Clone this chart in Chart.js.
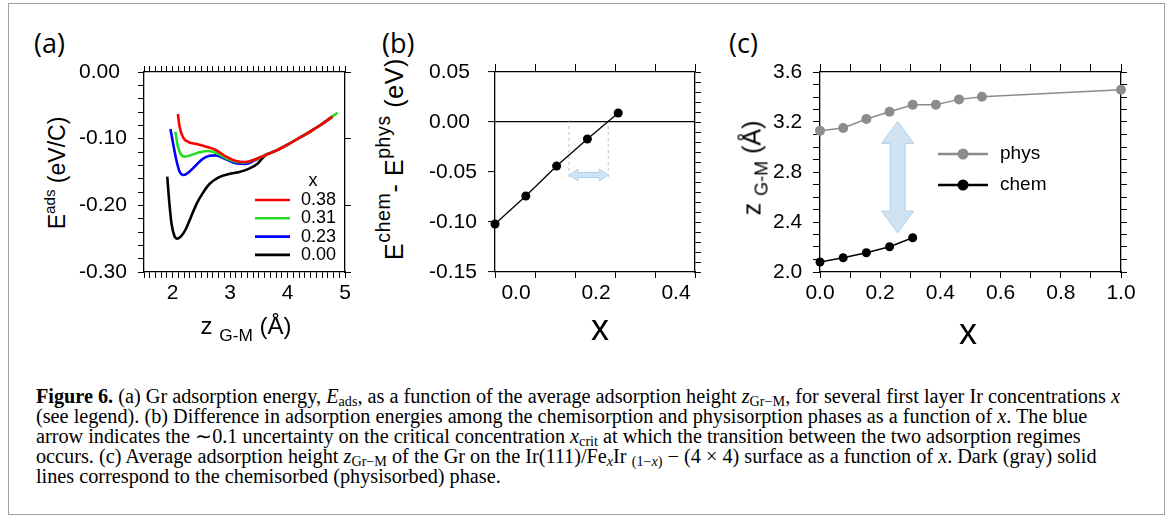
<!DOCTYPE html>
<html>
<head>
<meta charset="utf-8">
<script src="https://cdn.jsdelivr.net/npm/chart.js@4.4.1/dist/chart.umd.min.js"></script>
<style>
  body { margin: 0; width: 1171px; height: 517px; position: relative; overflow: hidden; background: #fff;
         font-family: "Liberation Sans", Arial, sans-serif; color: #000; }
  .frame { position: absolute; left: 8px; top: 3px; width: 1155px; height: 510px; border: 1.5px solid #a0a0a0; }
  canvas { position: absolute; }
  .lbl { position: absolute; white-space: nowrap; line-height: 1; }
  .rot { transform: translate(-50%, -50%) rotate(-90deg); }
  .ctr { transform: translate(-50%, -50%); }
  .lbl sup { font-size: 0.66em; vertical-align: 0.62em; line-height: 0; }
  .lbl sub { font-size: 0.72em; vertical-align: -0.38em; line-height: 0; }
  .panel { position: absolute; font-family: "Open Sans", "Liberation Sans", sans-serif; font-size: 27px; line-height: 1; }
  #caption { position: absolute; left: 36px; top: 386px; font-family: "Liberation Serif", "Times New Roman", serif;
             font-size: 20px; line-height: 20px; transform-origin: 0 0; }
  #caption div { white-space: nowrap; width: max-content; height: 20px; }
  #caption sub { font-size: 0.7em; vertical-align: -0.2em; line-height: 0; }
</style>
</head>
<body>
<div class="frame"></div>

<canvas id="chartA" width="300" height="300" style="left:70px;top:40px"></canvas>
<canvas id="chartB" width="300" height="300" style="left:420px;top:40px"></canvas>
<canvas id="chartC" width="390" height="300" style="left:760px;top:40px"></canvas>

<div class="panel" style="left:34px;top:29px">(a)</div>
<div class="panel" style="left:382px;top:29px">(b)</div>
<div class="panel" style="left:729px;top:29px">(c)</div>

<div class="lbl rot" style="left:57px;top:173px;font-size:23px">E<sup>ads</sup> (eV/C)</div>
<div class="lbl ctr" style="left:246px;top:326px;font-size:24px">z <sub>G-M</sub> (Å)</div>

<div class="lbl rot" style="left:394px;top:159px;font-size:25px;letter-spacing:0.6px">E<sup style="font-size:0.78em">chem</sup>- E<sup style="font-size:0.78em">phys</sup> (eV)</div>
<div class="lbl ctr" style="left:600px;top:328px;font-size:36px">x</div>

<div class="lbl rot" style="left:752px;top:168px;font-size:25px">z <sub>G-M</sub> (Å)</div>
<div class="lbl ctr" style="left:968px;top:332px;font-size:36px">x</div>

<div id="caption">
  <div id="cap1"><b>Figure 6.</b> (a) Gr adsorption energy, <i>E</i><sub>ads</sub>, as a function of the average adsorption height <i>z</i><sub>Gr−M</sub>, for several first layer Ir concentrations <i>x</i></div>
  <div>(see legend). (b) Difference in adsorption energies among the chemisorption and physisorption phases as a function of <i>x</i>. The blue</div>
  <div>arrow indicates the ∼0.1 uncertainty on the critical concentration <i>x</i><sub>crit</sub> at which the transition between the two adsorption regimes</div>
  <div>occurs. (c) Average adsorption height <i>z</i><sub>Gr−M</sub> of the Gr on the Ir(111)/Fe<sub><i>x</i></sub>Ir <sub>(1−<i>x</i>)</sub> − (4 × 4) surface as a function of <i>x</i>. Dark (gray) solid</div>
  <div>lines correspond to the chemisorbed (physisorbed) phase.</div>
</div>

<script>
// ---- panel (a): adsorption energy vs height, one curve per concentration x
const concLabels = ['0.38', '0.31', '0.23', '0.00'];
const concColors = ['#ff0000', '#22dd22', '#0000ff', '#000000'];

const zRed   = [2.09, 2.12, 2.18, 2.26, 2.41, 2.58, 2.75, 2.93, 3.10, 3.27, 3.44, 3.60, 3.80, 4.00, 4.20, 4.40, 4.60, 4.78];
const eRed   = [-0.063, -0.082, -0.098, -0.1045, -0.108, -0.112, -0.117, -0.127, -0.1335, -0.135, -0.131, -0.125, -0.118, -0.109, -0.099, -0.089, -0.078, -0.067];
const zGreen = [2.046, 2.09, 2.15, 2.21, 2.32, 2.47, 2.61, 2.75, 2.93, 3.10, 3.27, 3.44, 3.60, 3.80, 4.00, 4.20, 4.40, 4.60, 4.78, 4.87];
const eGreen = [-0.0895, -0.112, -0.1245, -0.127, -0.1245, -0.1205, -0.1185, -0.121, -0.1295, -0.1345, -0.1355, -0.131, -0.125, -0.118, -0.109, -0.099, -0.089, -0.078, -0.067, -0.061];
const zBlue  = [1.96, 2.006, 2.063, 2.12, 2.19, 2.29, 2.41, 2.52, 2.64, 2.75, 2.93, 3.10, 3.27, 3.44, 3.60, 3.80, 4.00, 4.20, 4.40, 4.60, 4.78];
const eBlue  = [-0.0855, -0.107, -0.132, -0.1495, -0.1545, -0.1495, -0.1395, -0.1305, -0.1255, -0.125, -0.131, -0.137, -0.138, -0.132, -0.125, -0.118, -0.109, -0.099, -0.089, -0.078, -0.067];
const zBlack = [1.905, 1.94, 1.98, 2.03, 2.08, 2.14, 2.22, 2.32, 2.42, 2.52, 2.64, 2.80, 2.98, 3.16, 3.33, 3.47, 3.60, 3.80, 4.00, 4.20, 4.40, 4.60, 4.78];
const eBlack = [-0.157, -0.195, -0.228, -0.246, -0.250, -0.247, -0.237, -0.217, -0.197, -0.182, -0.168, -0.158, -0.153, -0.150, -0.145, -0.138, -0.126, -0.118, -0.109, -0.099, -0.089, -0.078, -0.067];

// ---- panel (b): E_chem - E_phys vs x
const xDiff = [0, 0.077, 0.154, 0.231, 0.308];
const eDiff = [-0.102, -0.074, -0.044, -0.017, 0.009];
const xCritRange = [0.185, 0.283];   // ends of the blue uncertainty arrow
const critArrowY = -0.053;

// ---- panel (c): adsorption height vs x
const xPhys = [0, 0.077, 0.154, 0.231, 0.308, 0.385, 0.462, 0.538, 1.0];
const zPhys = [3.13, 3.152, 3.224, 3.282, 3.338, 3.338, 3.381, 3.402, 3.458];
const xChem = [0, 0.077, 0.154, 0.231, 0.308];
const zChem = [2.08, 2.114, 2.154, 2.202, 2.274];
const gapArrowX = 0.258;
const gapArrowZ = [3.205, 2.312];

const FONT = "'Liberation Sans', Arial, sans-serif";
const tickFont = { family: FONT, size: 21 };

function pts(xs, ys) {
    return xs.map((x, i) => ({ x: x, y: ys[i] }));
}

// one side of the box: ticks only, size forced so the plot areas line up
function side(position, min, max, step, size, tickLen, extra) {
    const horiz = position === 'top' || position === 'bottom';
    const s = {
        type: 'linear', position: position, min: min, max: max,
        grid: { drawOnChartArea: false, tickLength: tickLen, tickColor: '#000', tickWidth: 1, color: '#000' },
        border: { display: true, color: '#000', width: 1.3 },
        ticks: { display: false, stepSize: step },
        afterFit: horiz ? (sc) => { sc.height = size; } : (sc) => { sc.width = size; }
    };
    if (extra) {
        if (extra.ticks) Object.assign(s.ticks, extra.ticks);
        if (extra.grid) Object.assign(s.grid, extra.grid);
    }
    return s;
}

function xLabels(fn, extra) {
    return Object.assign({ display: true, font: tickFont, color: '#000', autoSkip: false, maxRotation: 0,
                           padding: 3, callback: fn }, extra || {});
}
function yLabels(fn) {
    return { display: true, font: tickFont, color: '#000', autoSkip: false, crossAlign: 'far', callback: fn };
}

function doubleArrow(ctx, x0, y0, x1, y1, shaft, headW, headL) {
    const L = Math.hypot(x1 - x0, y1 - y0);
    const ux = (x1 - x0) / L, uy = (y1 - y0) / L, nx = -uy, ny = ux;
    const p = (t, n) => [x0 + ux * t + nx * n, y0 + uy * t + ny * n];
    const poly = [p(0, 0), p(headL, headW), p(headL, shaft), p(L - headL, shaft), p(L - headL, headW), p(L, 0),
                  p(L - headL, -headW), p(L - headL, -shaft), p(headL, -shaft), p(headL, -headW)];
    ctx.beginPath();
    poly.forEach((q, i) => i ? ctx.lineTo(q[0], q[1]) : ctx.moveTo(q[0], q[1]));
    ctx.closePath();
    ctx.fillStyle = '#cfe3f2';
    ctx.fill();
    ctx.strokeStyle = '#b4d0e7';
    ctx.lineWidth = 1;
    ctx.stroke();
}

const base = {
    responsive: false, animation: false, devicePixelRatio: 1, events: [],
    plugins: { legend: { display: false }, tooltip: { enabled: false } }
};

// ================= (a)
const legendA = {
    id: 'legendA',
    afterDatasetsDraw(chart) {
        const { ctx, chartArea: a } = chart;
        ctx.save();
        ctx.font = '18px ' + FONT;
        ctx.fillStyle = '#000';
        ctx.textBaseline = 'middle';
        ctx.textAlign = 'center';
        ctx.fillText('x', a.right - 32, a.bottom - 91);
        ctx.textAlign = 'left';
        chart.data.datasets.forEach((ds, i) => {
            const y = a.bottom - 72 + i * 18.3;
            ctx.strokeStyle = ds.borderColor;
            ctx.lineWidth = 2.6;
            ctx.beginPath();
            ctx.moveTo(a.right - 90, y);
            ctx.lineTo(a.right - 55, y);
            ctx.stroke();
            ctx.fillText(ds.label, a.right - 44, y);
        });
        ctx.restore();
    }
};

const curvesA = [[zRed, eRed], [zGreen, eGreen], [zBlue, eBlue], [zBlack, eBlack]];
new Chart(document.getElementById('chartA'), {
    type: 'scatter',
    data: {
        datasets: curvesA.map((c, i) => ({
            label: concLabels[i], data: pts(c[0], c[1]), showLine: true, pointRadius: 0,
            borderColor: concColors[i], borderWidth: 2.6, cubicInterpolationMode: 'monotone'
        }))
    },
    options: Object.assign({}, base, {
        layout: { padding: { left: 9, top: 0, right: 0, bottom: 0 } },
        scales: {
            x: side('bottom', 1.5, 5, 0.1, 68, 6, { ticks: xLabels(v => Math.abs(v - Math.round(v)) < 1e-6 ? String(Math.round(v)) : '') }),
            x2: side('top', 1.5, 5, 0.1, 32, 6),
            y: side('left', -0.3, 0, 0.02, 65, 6, { ticks: yLabels(v => Math.round(v * 100) % 10 === 0 ? (Math.abs(v) < 1e-9 ? '0.00' : v.toFixed(2)) : '') }),
            y2: side('right', -0.3, 0, 0.1, 25, 6)
        }
    }),
    plugins: [legendA]
});

// ================= (b)
const marksB = {
    id: 'marksB',
    beforeDatasetsDraw(chart) {
        const { ctx } = chart;
        const xs = chart.scales.x, ys = chart.scales.y;
        ctx.save();
        ctx.strokeStyle = '#b0b0b0';
        ctx.lineWidth = 0.8;
        ctx.setLineDash([3, 3]);
        xCritRange.forEach(v => {
            ctx.beginPath();
            ctx.moveTo(xs.getPixelForValue(v), ys.getPixelForValue(0.002));
            ctx.lineTo(xs.getPixelForValue(v), ys.getPixelForValue(-0.056));
            ctx.stroke();
        });
        ctx.setLineDash([]);
        doubleArrow(ctx, xs.getPixelForValue(xCritRange[0]), ys.getPixelForValue(critArrowY),
                    xs.getPixelForValue(xCritRange[1]), ys.getPixelForValue(critArrowY), 2.5, 6, 9);
        ctx.restore();
    }
};

new Chart(document.getElementById('chartB'), {
    type: 'scatter',
    data: {
        datasets: [{
            data: pts(xDiff, eDiff), showLine: true, borderColor: '#000', borderWidth: 1.3,
            pointRadius: 4.5, pointBackgroundColor: '#000', pointBorderWidth: 0, clip: false
        }]
    },
    options: Object.assign({}, base, {
        layout: { padding: { left: 9, top: 0, right: 0, bottom: 0 } },
        scales: {
            x: side('bottom', 0, 0.5, 0.1, 68, 6, { ticks: xLabels(v => Math.round(v * 10) % 2 === 0 ? v.toFixed(1) : '', { labelOffset: 21 }) }),
            x2: side('top', 0, 0.5, 0.1, 32, 8),
            y: side('left', -0.15, 0.05, 0.05, 66, 7, {
                ticks: yLabels(v => Math.abs(v) < 1e-9 ? '0.00' : v.toFixed(2)),
                grid: { drawOnChartArea: true, lineWidth: 1.2,
                        color: c => (c.tick && Math.abs(c.tick.value) < 1e-9) ? '#000' : 'rgba(0,0,0,0)' }
            }),
            y2: side('right', -0.15, 0.05, 0.01, 25, 6)
        }
    }),
    plugins: [marksB]
});

// ================= (c)
const marksC = {
    id: 'marksC',
    beforeDatasetsDraw(chart) {
        const xs = chart.scales.x, ys = chart.scales.y;
        chart.ctx.save();
        doubleArrow(chart.ctx, xs.getPixelForValue(gapArrowX), ys.getPixelForValue(gapArrowZ[0]),
                    xs.getPixelForValue(gapArrowX), ys.getPixelForValue(gapArrowZ[1]), 7.5, 16, 22);
        chart.ctx.restore();
    },
    afterDatasetsDraw(chart) {
        const { ctx, chartArea: a } = chart;
        ctx.save();
        ctx.font = '19px ' + FONT;
        ctx.textBaseline = 'middle';
        ctx.textAlign = 'left';
        chart.data.datasets.forEach((ds, i) => {
            const y = a.top + 82 + i * 31;
            ctx.strokeStyle = ds.borderColor;
            ctx.lineWidth = 2.4;
            ctx.beginPath();
            ctx.moveTo(a.left + 118, y);
            ctx.lineTo(a.left + 168, y);
            ctx.stroke();
            ctx.fillStyle = ds.pointBackgroundColor;
            ctx.beginPath();
            ctx.arc(a.left + 143, y, 5.5, 0, Math.PI * 2);
            ctx.fill();
            ctx.fillStyle = '#000';
            ctx.fillText(ds.label, a.left + 180, y);
        });
        ctx.restore();
    }
};

new Chart(document.getElementById('chartC'), {
    type: 'scatter',
    data: {
        datasets: [
            { label: 'phys', data: pts(xPhys, zPhys), showLine: true, borderColor: '#8c8c8c', borderWidth: 1.4,
              pointRadius: 5, pointBackgroundColor: '#8c8c8c', pointBorderWidth: 0, clip: false },
            { label: 'chem', data: pts(xChem, zChem), showLine: true, borderColor: '#000', borderWidth: 1.4,
              pointRadius: 4.5, pointBackgroundColor: '#000', pointBorderWidth: 0, clip: false }
        ]
    },
    options: Object.assign({}, base, {
        layout: { padding: { left: 13, top: 0, right: 0, bottom: 0 } },
        scales: {
            x: side('bottom', 0, 1, 0.1, 68, 6, { ticks: xLabels(v => Math.round(v * 10) % 2 === 0 ? v.toFixed(1) : '') }),
            x2: side('top', 0, 1, 0.1, 32, 8),
            y: side('left', 2.0, 3.6, 0.1, 47, 7, { ticks: yLabels(v => Math.round(v * 10) % 4 === 0 ? v.toFixed(1) : '') }),
            y2: side('right', 2.0, 3.6, 0.1, 29, 6)
        }
    }),
    plugins: [marksC]
});

// caption: stretch the lines so the first one spans the same width as the printed figure
const cap = document.getElementById('caption');
const w1 = document.getElementById('cap1').getBoundingClientRect().width;
cap.style.transform = 'scaleX(' + (1084 / w1) + ')';
</script>
</body>
</html>
